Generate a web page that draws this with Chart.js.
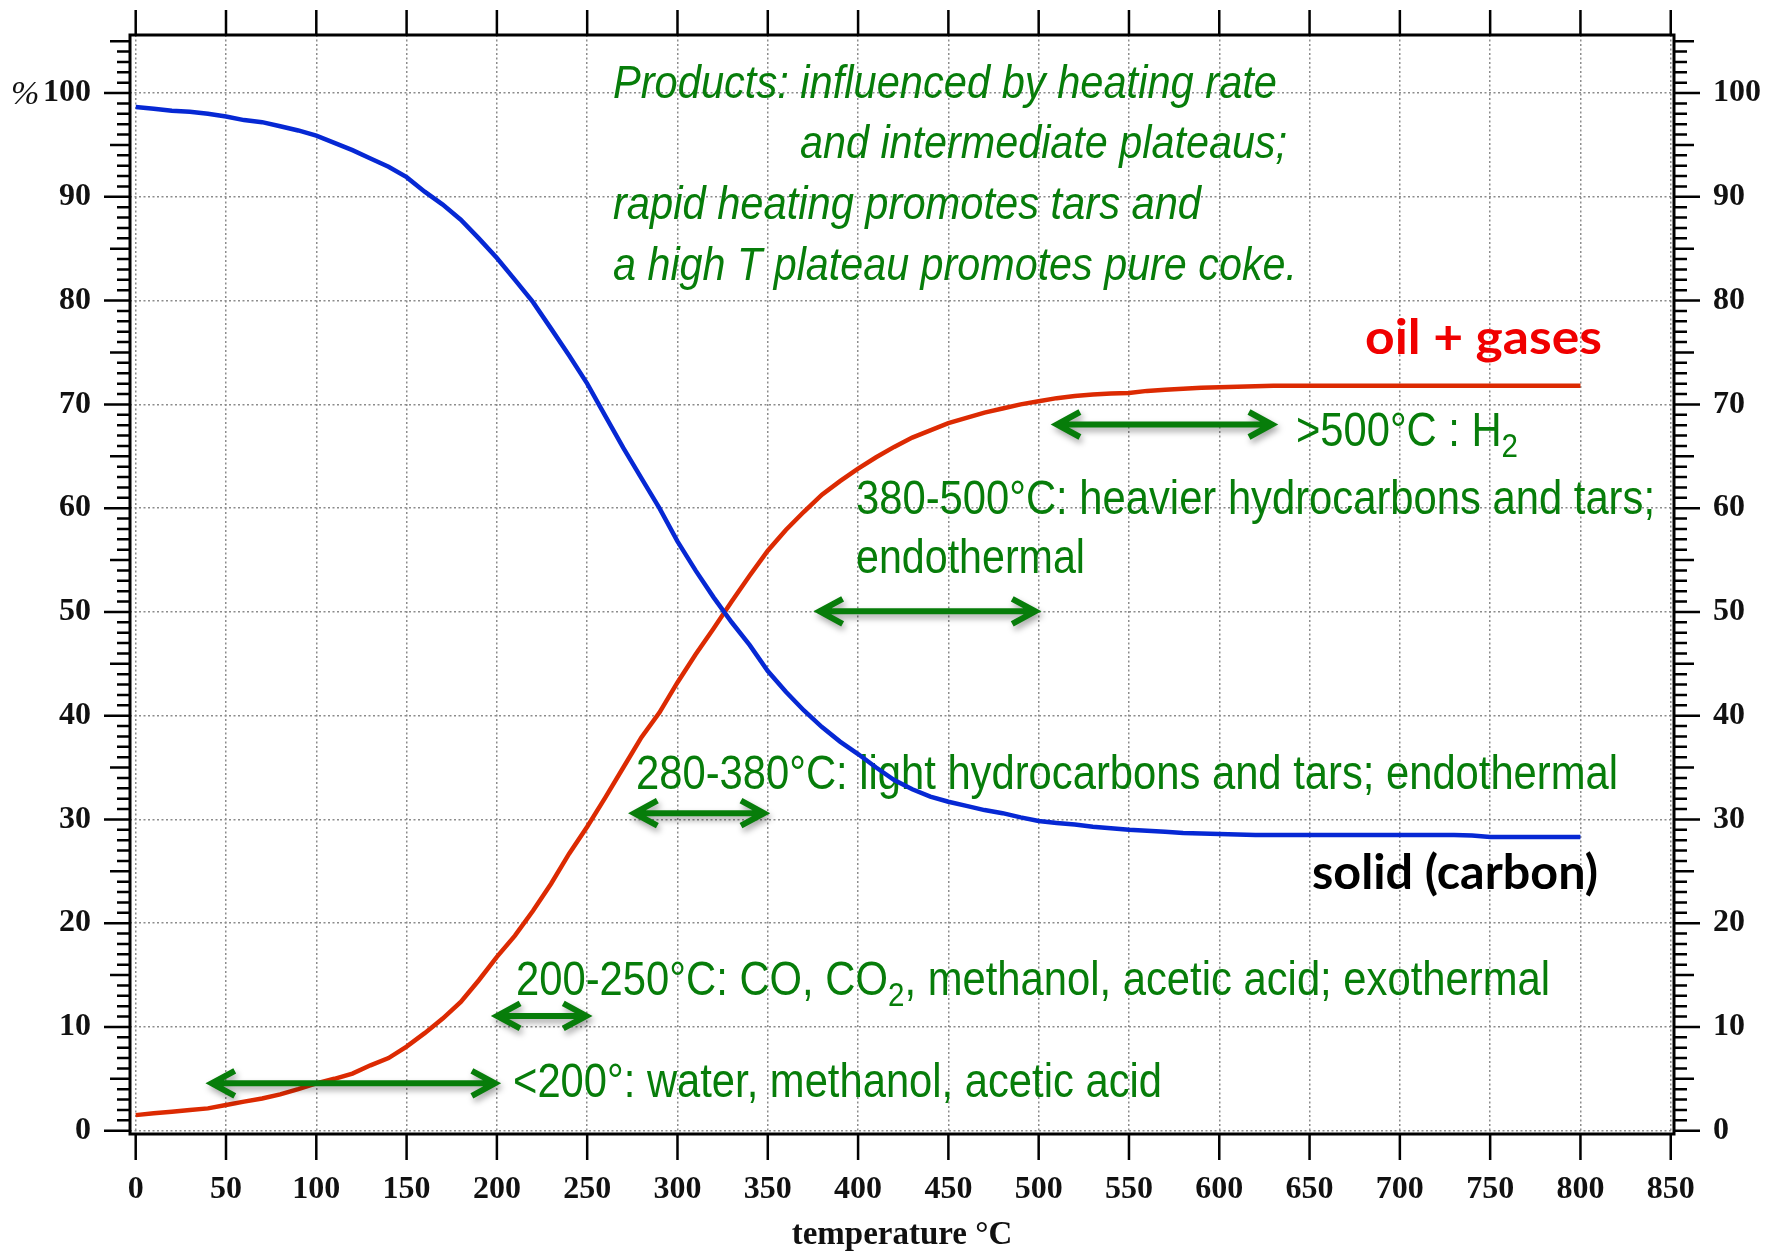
<!DOCTYPE html>
<html><head><meta charset="utf-8">
<script src="https://cdn.jsdelivr.net/npm/chart.js@4.4.1/dist/chart.umd.min.js"></script>
<style>html,body{margin:0;padding:0;background:#fff;overflow:hidden}</style>
</head><body>
<canvas id="c" width="1773" height="1253"></canvas>
<script>
// ---------- data ----------
const temperatures = [0,10,20,30,40,50,60,70,80,90,100,110,120,130,140,150,160,170,180,190,200,210,220,230,240,250,260,270,280,290,300,310,320,330,340,350,360,370,380,390,400,410,420,430,440,450,460,470,480,490,500,510,520,530,540,550,560,570,580,590,600,610,620,630,640,650,660,670,680,690,700,710,720,730,740,750,760,770,780,790,800];
const solidCarbon = [98.65,98.5,98.3,98.2,98.0,97.75,97.4,97.2,96.8,96.4,95.9,95.2,94.5,93.7,92.9,91.9,90.5,89.25,87.8,86.0,84.1,82.0,79.85,77.3,74.7,72.0,68.9,65.8,62.9,60.0,56.8,54.0,51.4,49.0,46.8,44.3,42.3,40.5,38.9,37.5,36.3,35.0,33.8,32.9,32.2,31.7,31.3,30.9,30.6,30.2,29.85,29.65,29.5,29.3,29.15,29.0,28.9,28.8,28.7,28.65,28.6,28.55,28.5,28.5,28.5,28.5,28.5,28.5,28.5,28.5,28.5,28.5,28.5,28.5,28.45,28.3,28.3,28.3,28.3,28.3,28.3];
const oilGases = [1.5,1.67,1.83,2.0,2.15,2.47,2.8,3.1,3.5,4.0,4.55,5.0,5.5,6.3,7.0,8.1,9.4,10.8,12.4,14.5,16.75,18.8,21.2,23.8,26.7,29.3,32.1,35.0,37.9,40.3,43.2,45.9,48.4,51.0,53.5,55.9,57.9,59.65,61.3,62.6,63.8,64.9,65.9,66.8,67.5,68.2,68.7,69.2,69.6,70.0,70.3,70.6,70.8,70.95,71.05,71.1,71.3,71.4,71.5,71.6,71.65,71.7,71.75,71.8,71.8,71.8,71.8,71.8,71.8,71.8,71.8,71.8,71.8,71.8,71.8,71.8,71.8,71.8,71.8,71.8,71.8];
const xTickValues = [0,50,100,150,200,250,300,350,400,450,500,550,600,650,700,750,800,850];
const yTickValues = [0,10,20,30,40,50,60,70,80,90,100];
const xAxisTitle = 'temperature °C';

// ---------- annotations (temperature ranges, in data units) ----------
const rangeArrows = [
  {from: 41, to: 200, at: 4.57},
  {from: 199, to: 250.6, at: 11.06},
  {from: 275, to: 349, at: 30.6},
  {from: 377.6, to: 499.2, at: 50.05},
  {from: 509, to: 630.3, at: 68.06}
];

// ---------- styling ----------
const GREEN = '#077d0a';
const serifBold = {family: 'Liberation Serif', weight: 'bold', size: 32};

function fitText(ctx, parts, x, y, width, color) {
  let natural = 0;
  parts.forEach(p => { ctx.font = p.font; p.w = ctx.measureText(p.t).width; natural += p.w; });
  const sx = width / natural;
  ctx.save();
  ctx.fillStyle = color;
  ctx.textAlign = 'left';
  ctx.textBaseline = 'alphabetic';
  ctx.translate(x, y);
  ctx.scale(sx, 1);
  let cx = 0;
  parts.forEach(p => { ctx.font = p.font; ctx.fillText(p.t, cx, p.dy || 0); cx += p.w; });
  ctx.restore();
}

const IT = 'italic 46px "Liberation Sans"';
const RG = '48px "Liberation Sans"';
const SUB = '34px "Liberation Sans"';
const BD = 'bold 48px Lato';

const textPlugin = {
  id: 'texts',
  beforeDraw(chart) {
    const ctx = chart.ctx;
    ctx.save(); ctx.fillStyle = '#fff'; ctx.fillRect(0, 0, chart.width, chart.height); ctx.restore();
  },
  beforeDatasetsDraw(chart) {
    const ctx = chart.ctx;
    fitText(ctx, [{t:'Products: influenced by heating rate', font: IT}], 613, 98, 664, GREEN);
    fitText(ctx, [{t:'and intermediate plateaus;', font: IT}], 800, 158, 487, GREEN);
    fitText(ctx, [{t:'rapid heating promotes tars and', font: IT}], 613, 219, 588, GREEN);
    fitText(ctx, [{t:'a high T plateau promotes pure coke.', font: IT}], 613, 280, 684, GREEN);

    fitText(ctx, [{t:'>500°C : H', font: RG}, {t:'2', font: SUB, dy: 11}], 1296, 446, 222, GREEN);
    fitText(ctx, [{t:'380-500°C: heavier hydrocarbons and tars;', font: RG}], 856, 514, 799, GREEN);
    fitText(ctx, [{t:'endothermal', font: RG}], 856, 573, 229, GREEN);
    fitText(ctx, [{t:'280-380°C: light hydrocarbons and tars; endothermal', font: RG}], 636, 789, 982, GREEN);
    fitText(ctx, [{t:'200-250°C: CO, CO', font: RG}, {t:'2', font: SUB, dy: 11}, {t:', methanol, acetic acid; exothermal', font: RG}], 516, 995, 1034, GREEN);
    fitText(ctx, [{t:'<200°: water, methanol, acetic acid', font: RG}], 513, 1097, 649, GREEN);

    fitText(ctx, [{t:'oil + gases', font: BD}], 1365, 354, 237, '#f00000');
    fitText(ctx, [{t:'solid (carbon)', font: BD}], 1312, 889, 286, '#000');
  },
  afterDatasetsDraw(chart) {
    const ctx = chart.ctx;
    const xs = chart.scales.x, ys = chart.scales.y;
    ctx.save();
    ctx.strokeStyle = GREEN;
    ctx.lineWidth = 6;
    ctx.lineJoin = 'miter';
    ctx.lineCap = 'butt';
    ctx.shadowColor = 'rgba(0,0,0,0.35)';
    ctx.shadowBlur = 6;
    ctx.shadowOffsetX = 2;
    ctx.shadowOffsetY = 4;
    rangeArrows.forEach(a => {
      const x1 = xs.getPixelForValue(a.from), x2 = xs.getPixelForValue(a.to), y = ys.getPixelForValue(a.at);
      ctx.beginPath();
      ctx.moveTo(x1 + 3, y); ctx.lineTo(x2 - 3, y);
      ctx.moveTo(x1 + 25, y - 12.5); ctx.lineTo(x1 + 2, y); ctx.lineTo(x1 + 25, y + 12.5);
      ctx.moveTo(x2 - 25, y - 12.5); ctx.lineTo(x2 - 2, y); ctx.lineTo(x2 - 25, y + 12.5);
      ctx.stroke();
    });
    ctx.restore();
  },
  afterDraw(chart) {
    const ctx = chart.ctx;
    const xs = chart.scales.x, ys = chart.scales.y;
    const {left, right, top, bottom} = chart.chartArea;
    ctx.save();
    ctx.strokeStyle = '#000';
    ctx.lineWidth = 2.5;
    ctx.beginPath();
    xTickValues.forEach(v => {
      const px = xs.getPixelForValue(v);
      ctx.moveTo(px, bottom); ctx.lineTo(px, bottom + 26);
      ctx.moveTo(px, top); ctx.lineTo(px, top - 25);
    });
    for (let v = 0; v <= 105; v += 1) {
      const py = ys.getPixelForValue(v);
      const len = v % 10 === 0 ? 26 : (v % 5 === 0 ? 20 : 13);
      ctx.moveTo(left - len, py); ctx.lineTo(left, py);
      ctx.moveTo(right, py); ctx.lineTo(right + len, py);
    }
    ctx.stroke();
    ctx.lineWidth = 3;
    ctx.strokeRect(left, top, right - left, bottom - top);
    ctx.fillStyle = '#111';
    ctx.font = 'italic 34px "Liberation Serif"';
    ctx.textAlign = 'left';
    ctx.textBaseline = 'alphabetic';
    ctx.fillText('%', 11, 104);
    ctx.restore();
  }
};

const gridCommon = {color: '#8c8c8c', lineWidth: 1.5, drawTicks: false};
const borderCommon = {display: false, dash: [2, 2.5]};

function noPad(s) { s.paddingTop = 0; s.paddingBottom = 0; s.paddingLeft = 0; s.paddingRight = 0; }

new Chart(document.getElementById('c'), {
  type: 'line',
  data: {
    datasets: [
      {label: 'solid (carbon)', data: temperatures.map((t, i) => ({x: t, y: solidCarbon[i]})), borderColor: '#0628d4', borderWidth: 4.5, pointRadius: 0, tension: 0, fill: false, yAxisID: 'y'},
      {label: 'oil + gases', data: temperatures.map((t, i) => ({x: t, y: oilGases[i]})), borderColor: '#dc2a02', borderWidth: 4.5, pointRadius: 0, tension: 0, fill: false, yAxisID: 'y'}
    ]
  },
  options: {
    responsive: false,
    animation: false,
    devicePixelRatio: 1,
    layout: {padding: {top: 35, left: 0, right: 0, bottom: 0}},
    plugins: {legend: {display: false}, tooltip: {enabled: false}, title: {display: false}},
    scales: {
      x: {
        type: 'linear', position: 'bottom', min: -3.16, max: 851.8,
        afterBuildTicks: s => { s.ticks = xTickValues.map(v => ({value: v})); },
        afterFit: s => { s.height = 119; noPad(s); },
        grid: gridCommon, border: borderCommon,
        ticks: {font: serifBold, color: '#111', padding: 37, maxRotation: 0, autoSkip: false},
        title: {display: true, text: xAxisTitle, font: {family: 'Liberation Serif', weight: 'bold', size: 33, lineHeight: 1}, color: '#111', padding: {top: 0, bottom: 1}}
      },
      y: {
        type: 'linear', position: 'left', min: -0.32, max: 105.6,
        afterBuildTicks: s => { s.ticks = yTickValues.map(v => ({value: v})); },
        afterFit: s => { s.width = 130; noPad(s); },
        grid: gridCommon, border: borderCommon,
        ticks: {font: serifBold, color: '#111', padding: 39}
      },
      y2: {
        type: 'linear', position: 'right', min: -0.32, max: 105.6,
        afterBuildTicks: s => { s.ticks = yTickValues.map(v => ({value: v})); },
        afterFit: s => { s.width = 99; noPad(s); },
        grid: {display: false, drawTicks: false, drawOnChartArea: false}, border: {display: false},
        ticks: {font: serifBold, color: '#111', padding: 39}
      }
    }
  },
  plugins: [textPlugin]
});
</script>
</body></html>
